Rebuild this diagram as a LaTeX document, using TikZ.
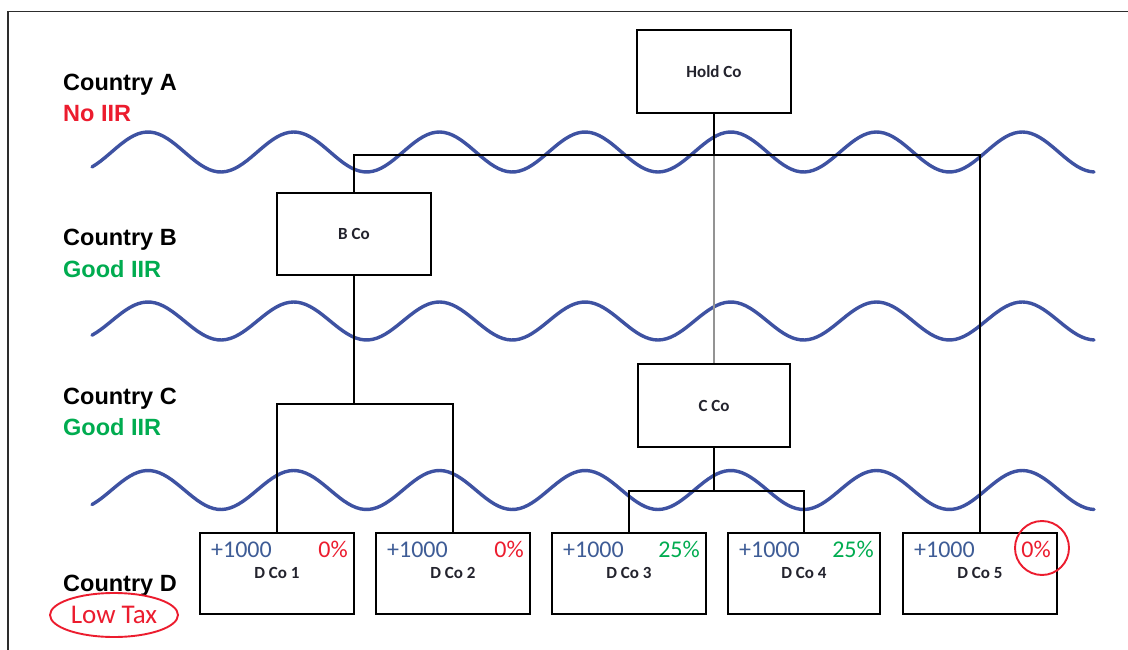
\documentclass[tikz,border=0pt]{standalone}
\usepackage{fontspec}
\setmainfont{Liberation Sans}
\newfontfamily\calfont{Carlito}
\usetikzlibrary{calc,shapes.geometric}
\definecolor{wavecol}{RGB}{62,82,162}
\definecolor{redc}{RGB}{236,28,46}
\definecolor{greenc}{RGB}{0,172,80}
\definecolor{numblue}{RGB}{62,92,150}
\definecolor{labc}{RGB}{35,35,45}
\definecolor{framec}{RGB}{45,45,45}
\tikzset{
  wave/.style={wavecol, line width=3.4pt, line cap=round},
  cobox/.style={draw=black, line width=2pt, inner sep=0pt, minimum width=154pt, minimum height=82pt,
    font=\calfont\bfseries\fontsize{17}{20}\selectfont, text=labc},
  conn/.style={black, line width=2pt},
  grayconn/.style={gray!85, line width=2.2pt},
  country/.style={anchor=base west, inner sep=0pt, font=\bfseries\fontsize{23.5}{28}\selectfont},
  num/.style={anchor=base west, inner sep=0pt, text=numblue, font=\calfont\fontsize{24}{28}\selectfont},
  pct/.style={anchor=base east, inner sep=0pt, font=\calfont\fontsize{24}{28}\selectfont},
  dlab/.style={anchor=base, inner sep=0pt, text=labc, font=\calfont\bfseries\fontsize{17}{20}\selectfont},
  redmark/.style={draw=redc, line width=1.9pt}
}
\begin{document}
\begin{tikzpicture}[x=1pt,y=-1pt]
\useasboundingbox (0,0) rectangle (1128,650);
\clip (0,0) rectangle (1128,650);
\fill[white] (0,0) rectangle (1128,650);
\draw[framec, line width=1.6pt] (8,11.5) rectangle (1160,700);

% borders between countries
\draw[wave] plot[domain=92:1094, samples=240] (\x, {152 - 20*cos(2.4708*(\x-148))});
\draw[wave] plot[domain=92:1094, samples=240] (\x, {321 - 19*cos(2.4708*(\x-148))});
\draw[wave] plot[domain=92:1094, samples=240] (\x, {490 - 19.5*cos(2.4708*(\x-148))});

% country labels
\node[country, text=black] (ca) at (63,91) {Country A};
\node[country, text=redc] (ca2) at (63,122) {No IIR};
\node[country, text=black] (cb) at (63,245) {Country B};
\node[country, text=greenc] (cb2) at (63,277) {Good IIR};
\node[country, text=black] (cc) at (63,404) {Country C};
\node[country, text=greenc] (cc2) at (63,435) {Good IIR};
\node[country, text=black] (cd) at (63,591) {Country D};
\node[redmark, ellipse, minimum width=128pt, minimum height=44pt, inner sep=0pt] (lowtax) at (114,615) {};
\node[anchor=base, inner sep=0pt, text=redc, font=\calfont\fontsize{27}{30}\selectfont] (lowtaxt) at (114,623) {Low Tax};

% company boxes
\node[cobox, minimum width=154pt, minimum height=83pt] (hold) at (714,71.5) {Hold Co};
\node[cobox] (bco) at (354,234) {B Co};
\node[cobox, minimum width=152pt, minimum height=83pt] (cco) at (714,405.5) {C Co};
\node[cobox, minimum height=81pt] (d1) at (277,573.5) {};
\node[cobox, minimum height=81pt] (d2) at (453,573.5) {};
\node[cobox, minimum height=81pt] (d3) at (629,573.5) {};
\node[cobox, minimum width=152pt, minimum height=81pt] (d4) at (804,573.5) {};
\node[cobox, minimum height=81pt] (d5) at (980,573.5) {};

% connectors
\coordinate (topj) at (714,155);
\coordinate (bj) at (354,404);
\coordinate (cj) at (714,491);
\draw[grayconn] (hold.south) -- (cco.north);
\draw[conn] (hold.south) -- (topj);
\draw[conn] (bco.north) |- (topj) -| (d5.north);
\draw[conn] (bco.south) -- (bj);
\draw[conn] (d1.north) |- (bj) -| (d2.north);
\draw[conn] (cco.south) -- (cj);
\draw[conn] (d3.north) |- (cj) -| (d4.north);

% D box texts
\foreach \b/\n/\p/\c in {d1/1/0\%/redc, d2/2/0\%/redc, d3/3/25\%/greenc, d4/4/25\%/greenc, d5/5/0\%/redc}{
  \node[num] (\b num) at ($(\b.north west)+(12,25)$) {+1000};
  \node[pct, text=\c] (\b pct) at ($(\b.north east)+(-7,25)$) {\p};
  \node[dlab] (\b lab) at ($(\b.north)+(0,46)$) {D Co \n};
}
\node[redmark, circle, minimum size=54pt, inner sep=0pt] (circ) at (1042,548) {};
\end{tikzpicture}
\end{document}
